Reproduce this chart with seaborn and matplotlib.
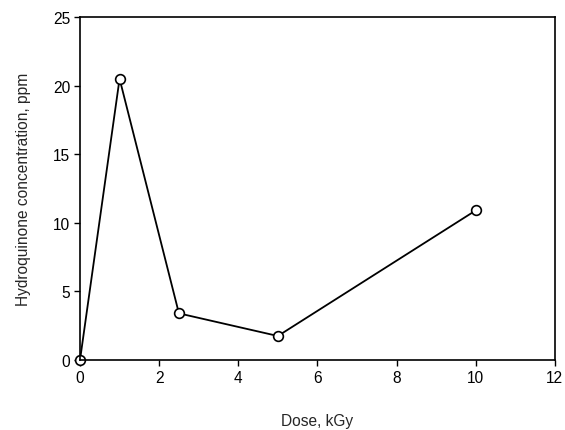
import matplotlib
matplotlib.use('Agg')
import matplotlib.pyplot as plt
import seaborn as sns
import pandas as pd

dose = [0, 1, 2.5, 5, 10]
concentration = [0, 20.5, 3.4, 1.75, 10.9]

sns.set_style('ticks')
plt.rcParams['font.family'] = ['Liberation Sans', 'DejaVu Sans']

df = pd.DataFrame({'Dose': dose, 'Conc': concentration})

fig = plt.figure(figsize=(5.65, 4.31), dpi=100)
ax = fig.add_axes([0.1416, 0.1624, 0.8404, 0.7958])
sns.lineplot(data=df, x='Dose', y='Conc', ax=ax, color='black', linewidth=1.3,
             marker='o', markersize=7, markerfacecolor='white',
             markeredgecolor='black', markeredgewidth=1.2, clip_on=False)

ax.set_xlim(0, 12)
ax.set_ylim(0, 25)
ax.set_xticks(range(0, 13, 2))
ax.set_yticks(range(0, 26, 5))
for s in ax.spines.values():
    s.set_linewidth(1.2)
    s.set_color('black')
ax.tick_params(direction='out', length=4, width=1, labelsize=11.2, colors='black', pad=3)
ax.set_xlabel('Dose, kGy', fontsize=11.2, labelpad=20)
ax.set_ylabel('Hydroquinone concentration, ppm', fontsize=11.2, labelpad=16)

fig.savefig('out.png', dpi=100)
